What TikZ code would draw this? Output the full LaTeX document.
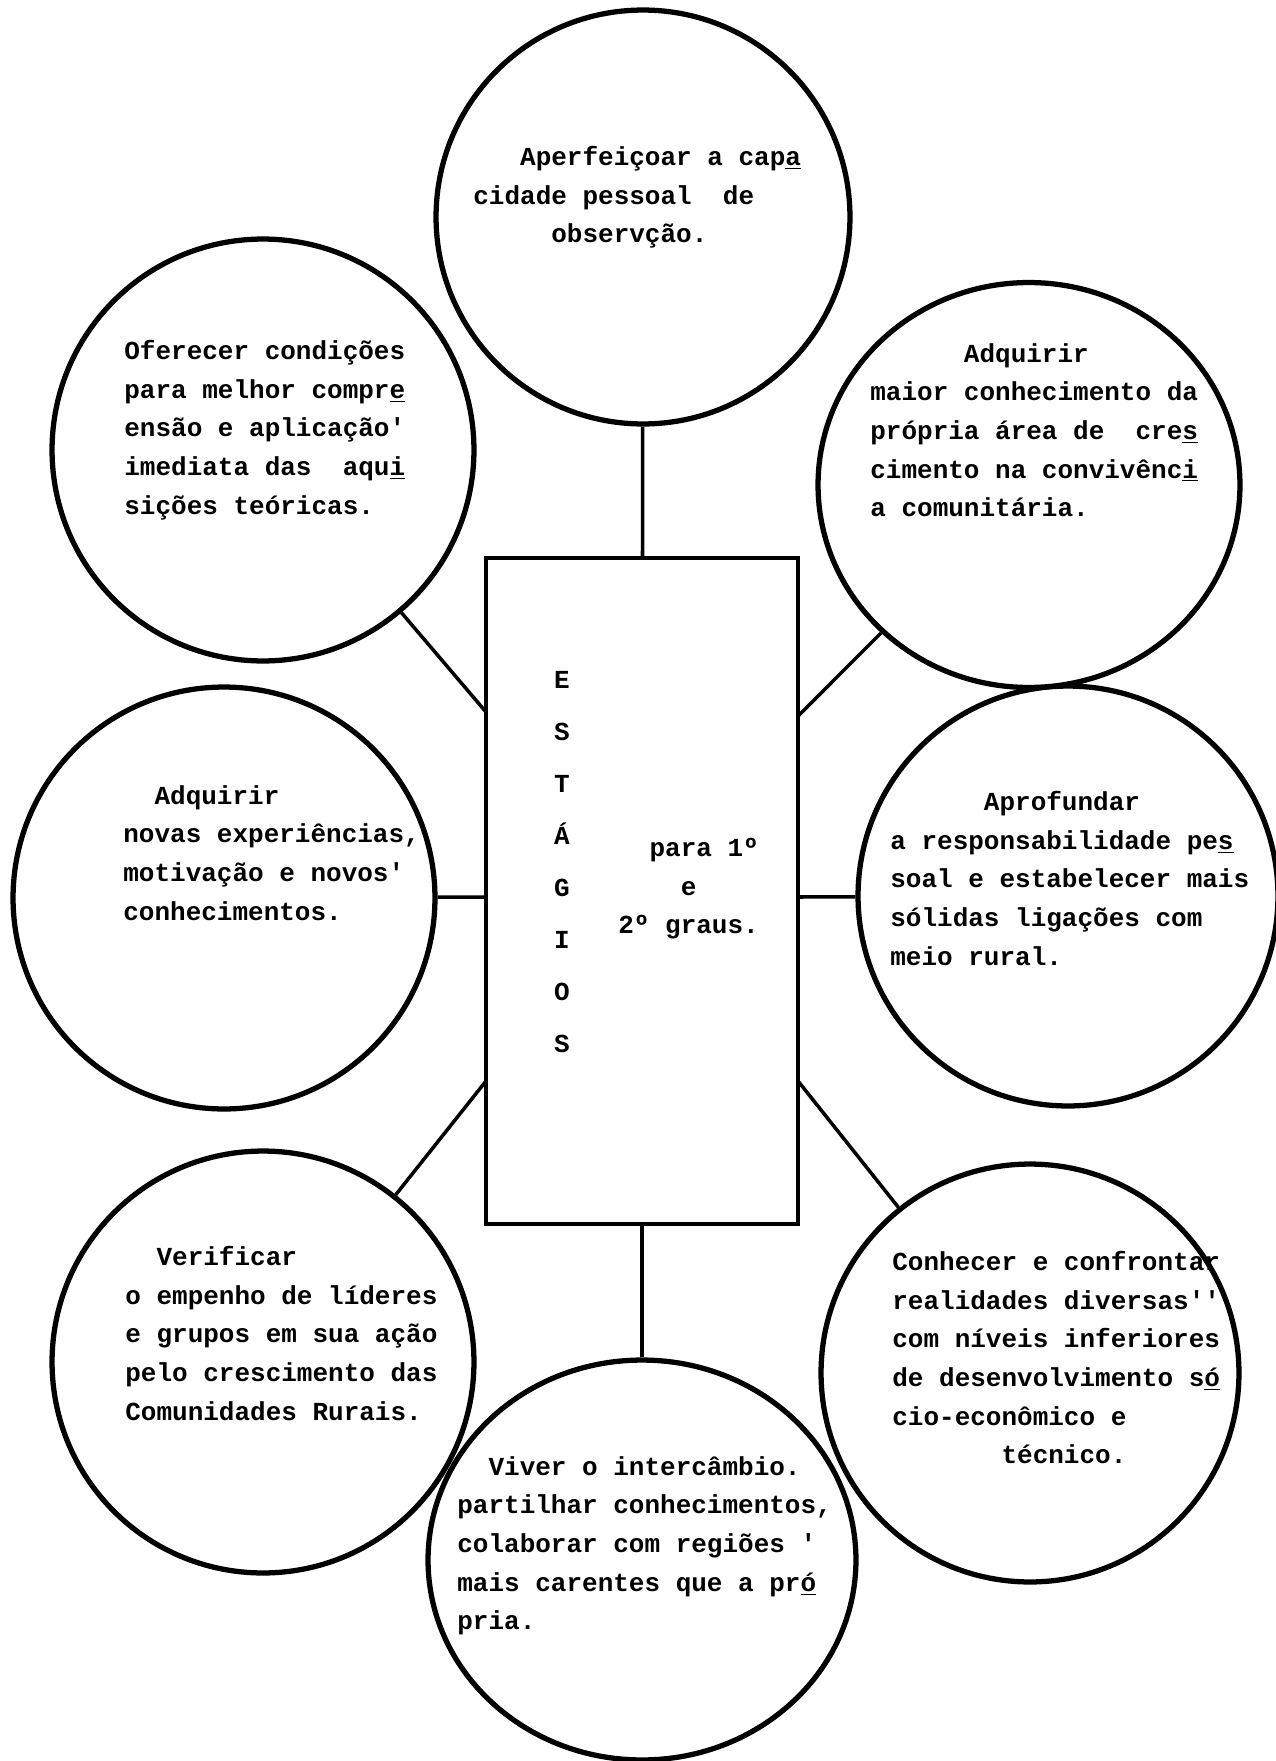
\documentclass[tikz,border=0pt]{standalone}
\usepackage{fontspec}
\setmonofont{Liberation Mono}
\usepackage{tikz}
\usetikzlibrary{shapes.geometric}
\newcommand{\ind}[1]{\hspace*{#1\dimexpr0.6em\relax}}

\begin{document}
\begin{tikzpicture}[x=0.02cm,y=-0.02cm,
	tt/.style={font=\ttfamily\bfseries\fontsize{14.8pt}{22pt}\selectfont},
	bubble/.style={circle,draw,line width=3pt,minimum size=#1},
	bubble/.default=8.4cm,
	box/.style={draw,line width=2.2pt,minimum width=6.24cm,minimum height=13.32cm,inner sep=0pt},
	txt/.style={tt,inner sep=0pt,anchor=north west,align=left,yshift=-0.2cm,execute at begin node=\strut},
	link/.style={line width=2pt}]
		\useasboundingbox (0,0) rectangle (1275,1761);
		%
		\node[box] (est) at (642,891) {};
		\node[bubble=8.28cm] (obs) at (643,217) {};
		\node[bubble=8.44cm] (teo) at (263,450) {};
		\node[ellipse,draw,line width=3pt,minimum width=8.44cm,minimum height=8.1cm] (com) at (1029,485) {};
		\node[bubble=8.44cm] (exp) at (224,898) {};
		\node[bubble=8.4cm] (rur) at (1068,896) {};
		\node[bubble=8.44cm] (lid) at (263,1362) {};
		\node[bubble=8.36cm] (tec) at (1030,1373) {};
		\node[ellipse,draw,line width=3pt,minimum width=8.56cm,minimum height=8cm] (int) at (642,1560) {};
		%
		\coordinate (est-ul) at (486,712);
		\coordinate (est-ur) at (798,716);
		\coordinate (est-l) at (486,897);
		\coordinate (est-r) at (798,897);
		\coordinate (est-ll) at (486,1081);
		\coordinate (est-lr) at (798,1081);
		%
		\path[link]
		(obs) edge (est)
		(int) edge (est)
		(teo) edge (est-ul)
		(com) edge (est-ur)
		(exp) edge (est-l)
		(rur) edge (est-r)
		(lid) edge (est-ll)
		(tec) edge (est-lr);
		%
		\foreach \ch [count=\i from 0] in {E,S,T,Á,G,I,O,S}
			\node[tt,anchor=base] (l\i) at (562,{688+52*\i}) {\ch};
		\node[txt] (grau) at (618,828) {\ind{2}para 1º\\\ind{4}e\\2º graus.};
		%
		\node[txt] (t-obs) at (473,136) {\ind{3}Aperfeiçoar a cap\underline{a}\\cidade pessoal\ \ de\\\ind{5}observção.};
		\node[txt] (t-teo) at (124,330) {Oferecer condições\\para melhor compr\underline{e}\\ensão e aplicação'\\imediata das\ \ aqu\underline{i}\\sições teóricas.};
		\node[txt] (t-com) at (870,333) {\ind{6}Adquirir\\maior conhecimento da\\própria área de\ \ cre\underline{s}\\cimento na convivênc\underline{i}\\a comunitária.};
		\node[txt] (t-exp) at (123,775) {\ind{2}Adquirir\\novas experiências,\\motivação e novos'\\conhecimentos.};
		\node[txt] (t-rur) at (890,781) {\ind{6}Aprofundar\\a responsabilidade pe\underline{s}\\soal e estabelecer mais\\sólidas ligações com\\meio rural.};
		\node[txt] (t-lid) at (125,1236) {\ind{2}Verificar\\o empenho de líderes\\e grupos em sua ação\\pelo crescimento das\\Comunidades Rurais.};
		\node[txt] (t-tec) at (892,1241) {Conhecer e confrontar\\realidades diversas'{}'\\com níveis inferiores\\de desenvolvimento s\underline{ó}\\cio-econômico e\\\ind{7}técnico.};
		\node[txt] (t-int) at (457,1446) {\ind{2}Viver o intercâmbio.\\partilhar conhecimentos,\\colaborar com regiões '\\mais carentes que a pr\underline{ó}\\pria.};
\end{tikzpicture}
\end{document}
